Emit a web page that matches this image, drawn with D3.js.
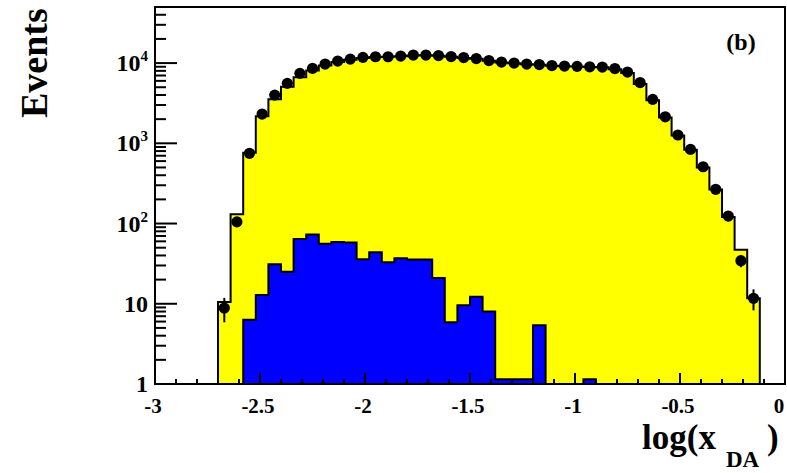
<!DOCTYPE html>
<html>
<head>
<meta charset="utf-8">
<script src="https://cdn.jsdelivr.net/npm/d3@7"></script>
<style>
  html, body { margin: 0; padding: 0; background: #ffffff; }
  svg { display: block; }
  text { font-family: "Liberation Serif", "Times New Roman", serif; font-weight: bold; fill: #000; }
</style>
</head>
<body>
<svg id="chart" width="787" height="473"></svg>
<script>
// Histogram binning: 43 bins of width 0.06 starting at log(x_DA) = -2.7
const binLow = -2.7;
const binWidth = 0.06;

// Data events per bin (points with sqrt(N) errors)
const dataCounts = [
  8.85, 105, 750, 2315, 3990, 5590, 7450, 8590, 9720, 10590,
  11210, 11780, 11990, 11990, 12230, 12590, 12590, 12400, 12050, 11720,
  11380, 10750, 10290, 10000, 9720, 9580, 9310, 9180, 9100, 8990,
  8920, 8540, 7730, 5720, 3530, 2140, 1270, 840, 510, 267,
  124, 34.4, 11.7
];

// Total simulation (yellow)
const mcTotal = [
  10.5, 131, 760, 2180, 3530, 5070, 6640, 8100, 9300, 10300,
  11000, 11600, 11900, 12000, 12200, 12400, 12500, 12300, 12000, 11600,
  11300, 10700, 10200, 9950, 9700, 9500, 9250, 9150, 9050, 8950,
  8850, 8400, 7500, 5500, 3450, 2100, 1250, 830, 500, 265,
  121, 47, 11.7
];

// Background component (blue)
const mcBackground = [
  0, 0, 6.3, 12.9, 31, 25, 64, 73, 56, 59,
  58, 36, 44, 33, 37, 35.7, 35.7, 21, 5.9, 9.6,
  12.2, 8.0, 1.15, 1.15, 1.15, 5.4, 0, 0, 0, 1.15,
  0, 0, 0, 0, 0, 0, 0, 0, 0, 0,
  0, 0, 0
];

const xTickValues = [-3, -2.5, -2, -1.5, -1, -0.5, 0];
const xTickLabels = ["-3", "-2.5", "-2", "-1.5", "-1", "-0.5", "0"];
const yTickValues = [1, 10, 100, 1000, 10000];
const yTickBase = ["1", "10", "10", "10", "10"];
const yTickExp = ["", "", "2", "3", "4"];

const frame = { left: 155, right: 785, top: 7, bottom: 384 };

const x = d3.scaleLinear().domain([-3, 0]).range([frame.left, frame.right]);
const y = d3.scaleLog().domain([1, 5e4]).range([frame.bottom, frame.top]);

const svg = d3.select("#chart");

function edges(i) { return [binLow + i * binWidth, binLow + (i + 1) * binWidth]; }
function yv(v) { return v > 1 ? y(v) : (v > 0 ? y(Math.max(v, 1)) : frame.bottom); }

// Step outline of a histogram, closed down to the axis floor
function stepPath(values) {
  const p = d3.path();
  const [x0] = edges(0);
  p.moveTo(x(x0), frame.bottom);
  values.forEach((v, i) => {
    const [a, b] = edges(i);
    p.lineTo(x(a), yv(v));
    p.lineTo(x(b), yv(v));
  });
  const [, xe] = edges(values.length - 1);
  p.lineTo(x(xe), frame.bottom);
  return p.toString();
}

const plot = svg.append("g");

plot.append("path")
  .attr("d", stepPath(mcTotal) + "Z")
  .attr("fill", "#ffff00")
  .attr("stroke", "#000")
  .attr("stroke-width", 2)
  .attr("stroke-linejoin", "miter");

plot.append("path")
  .attr("d", stepPath(mcBackground) + "Z")
  .attr("fill", "#0000ff")
  .attr("stroke", "#000")
  .attr("stroke-width", 2)
  .attr("stroke-linejoin", "miter");

// Data points with statistical error bars
const pts = plot.append("g");
dataCounts.forEach((n, i) => {
  const [a, b] = edges(i);
  const cx = x((a + b) / 2);
  const err = Math.sqrt(n);
  pts.append("line")
    .attr("x1", cx).attr("x2", cx)
    .attr("y1", y(n + err)).attr("y2", yv(n - err))
    .attr("stroke", "#000").attr("stroke-width", 2);
  pts.append("circle")
    .attr("cx", cx).attr("cy", y(n)).attr("r", 5.6)
    .attr("fill", "#000");
});

// Frame
svg.append("rect")
  .attr("x", frame.left).attr("y", frame.top)
  .attr("width", frame.right - frame.left).attr("height", frame.bottom - frame.top)
  .attr("fill", "none").attr("stroke", "#000").attr("stroke-width", 2);

// X ticks (inside, pointing up)
const xMinor = d3.range(-30, 1).map(k => k / 10);
const tg = svg.append("g").attr("stroke", "#000").attr("stroke-width", 2);
xMinor.forEach(v => {
  const major = Math.abs(v * 2 - Math.round(v * 2)) < 1e-6;
  tg.append("line")
    .attr("x1", x(v)).attr("x2", x(v))
    .attr("y1", frame.bottom).attr("y2", frame.bottom - (major ? 11 : 5));
});

// Y ticks (inside, pointing right)
const yMinor = [];
for (let d = 1; d <= 10000; d *= 10) for (let m = 1; m <= 9; m++) if (d * m <= 5e4) yMinor.push(d * m);
yMinor.forEach(v => {
  const major = yTickValues.includes(v);
  tg.append("line")
    .attr("x1", frame.left).attr("x2", frame.left + (major ? 22 : 11))
    .attr("y1", y(v)).attr("y2", y(v));
});

// X tick labels
xTickValues.forEach((v, i) => {
  const last = i === xTickValues.length - 1;
  svg.append("text")
    .attr("x", last ? x(v) - 6 : x(v) - 2)
    .attr("y", 413)
    .attr("text-anchor", "middle")
    .attr("font-size", 21)
    .text(xTickLabels[i]);
});

// Y tick labels
yTickValues.forEach((v, i) => {
  const t = svg.append("text")
    .attr("x", 148)
    .attr("y", y(v) + 8)
    .attr("text-anchor", "end")
    .attr("font-size", 24);
  t.append("tspan").text(yTickBase[i]);
  if (yTickExp[i]) {
    t.append("tspan").attr("dy", -10).attr("font-size", 15).text(yTickExp[i]);
  }
});

// Axis titles
svg.append("text")
  .attr("transform", "translate(47,118) rotate(-90)")
  .attr("text-anchor", "start")
  .attr("font-size", 38)
  .text("Events");

const xt = svg.append("text").attr("x", 642).attr("y", 449).attr("font-size", 35);
xt.append("tspan").text("log(x");
xt.append("tspan").attr("x", 726).attr("y", 467).attr("font-size", 23).text("DA");
xt.append("tspan").attr("x", 767).attr("y", 449).attr("font-size", 35).text(")");

svg.append("text")
  .attr("x", 741).attr("y", 50)
  .attr("text-anchor", "middle")
  .attr("font-size", 24)
  .text("(b)");
</script>
</body>
</html>
